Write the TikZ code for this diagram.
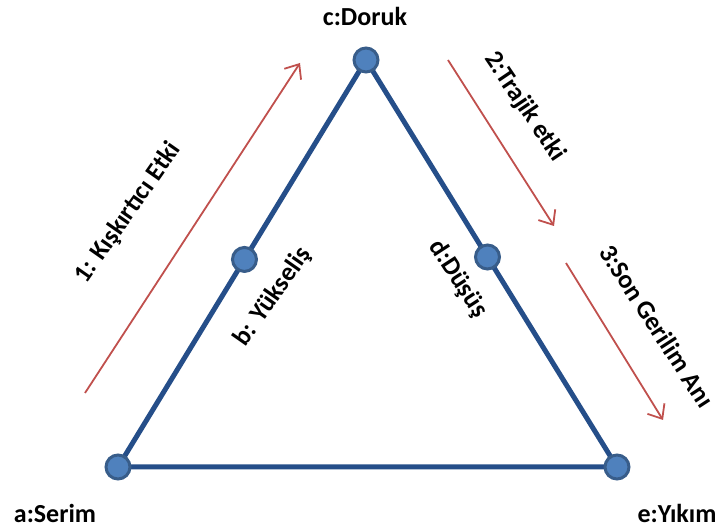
\documentclass[tikz,border=0pt]{standalone}
\usepackage{fontspec}
\setmainfont{Carlito}
\usetikzlibrary{arrows.meta,calc}
\definecolor{triblue}{RGB}{37,78,137}
\definecolor{dotfill}{RGB}{79,129,189}
\definecolor{dotedge}{RGB}{56,93,138}
\definecolor{arrred}{RGB}{192,80,77}
\tikzset{
 vtx/.style={circle,fill=dotfill,draw=dotedge,line width=3pt,minimum size=24pt,inner sep=0pt},
 side/.style={draw=triblue,line width=5pt,line join=round},
 flow/.style={draw=arrred,line width=1.8pt,-{Straight Barb[length=12pt,width=20pt,line width=1.8pt]}},
 lbl/.style={font=\bfseries\fontsize{26}{30}\selectfont,text=black,inner sep=0pt},
}
\begin{document}
\begin{tikzpicture}[x=1pt,y=-1pt]
\useasboundingbox (0,0) rectangle (721,529);
\coordinate (a) at (118,467);
\coordinate (c) at (366,60);
\coordinate (e) at (617,467);
\draw[side] (a) -- (c) -- (e) -- cycle;
\node[vtx] (na) at (a) {};
\node[vtx] (nc) at (c) {};
\node[vtx] (ne) at (e) {};
\node[vtx] (nb) at ($(a)!0.51!(c)$) {};
\node[vtx] (nd) at ($(c)!0.484!(e)$) {};
% labels
\node[lbl] (lc) at (365,16) {c:Doruk};
\node[lbl] (la) at (55,513) {a:Serim};
\node[lbl] (le) at (677,513) {e:Yıkım};
\node[lbl,rotate=55] (lb) at (273,297) {b: Yükseliş};
\node[lbl,rotate=-57] (ld) at (458,279) {d:Düşüş};
\node[lbl,rotate=55] (l1) at (128,213) {1: Kışkırtıcı Etki};
\node[lbl,rotate=-56] (l2) at (525,107) {2:Trajik etki};
\node[lbl,rotate=-57] (l3) at (657,326) {3:Son Gerilim Anı};
% arrows
\coordinate (s1) at (85,393);
\coordinate (t1) at (300,63);
\coordinate (s2) at (448,60);
\coordinate (t2) at (554,226);
\coordinate (s3) at (566,263);
\coordinate (t3) at (663,420);
\draw[flow] (s1) -- (t1);
\draw[flow] (s2) -- (t2);
\draw[flow] (s3) -- (t3);
\end{tikzpicture}
\end{document}
